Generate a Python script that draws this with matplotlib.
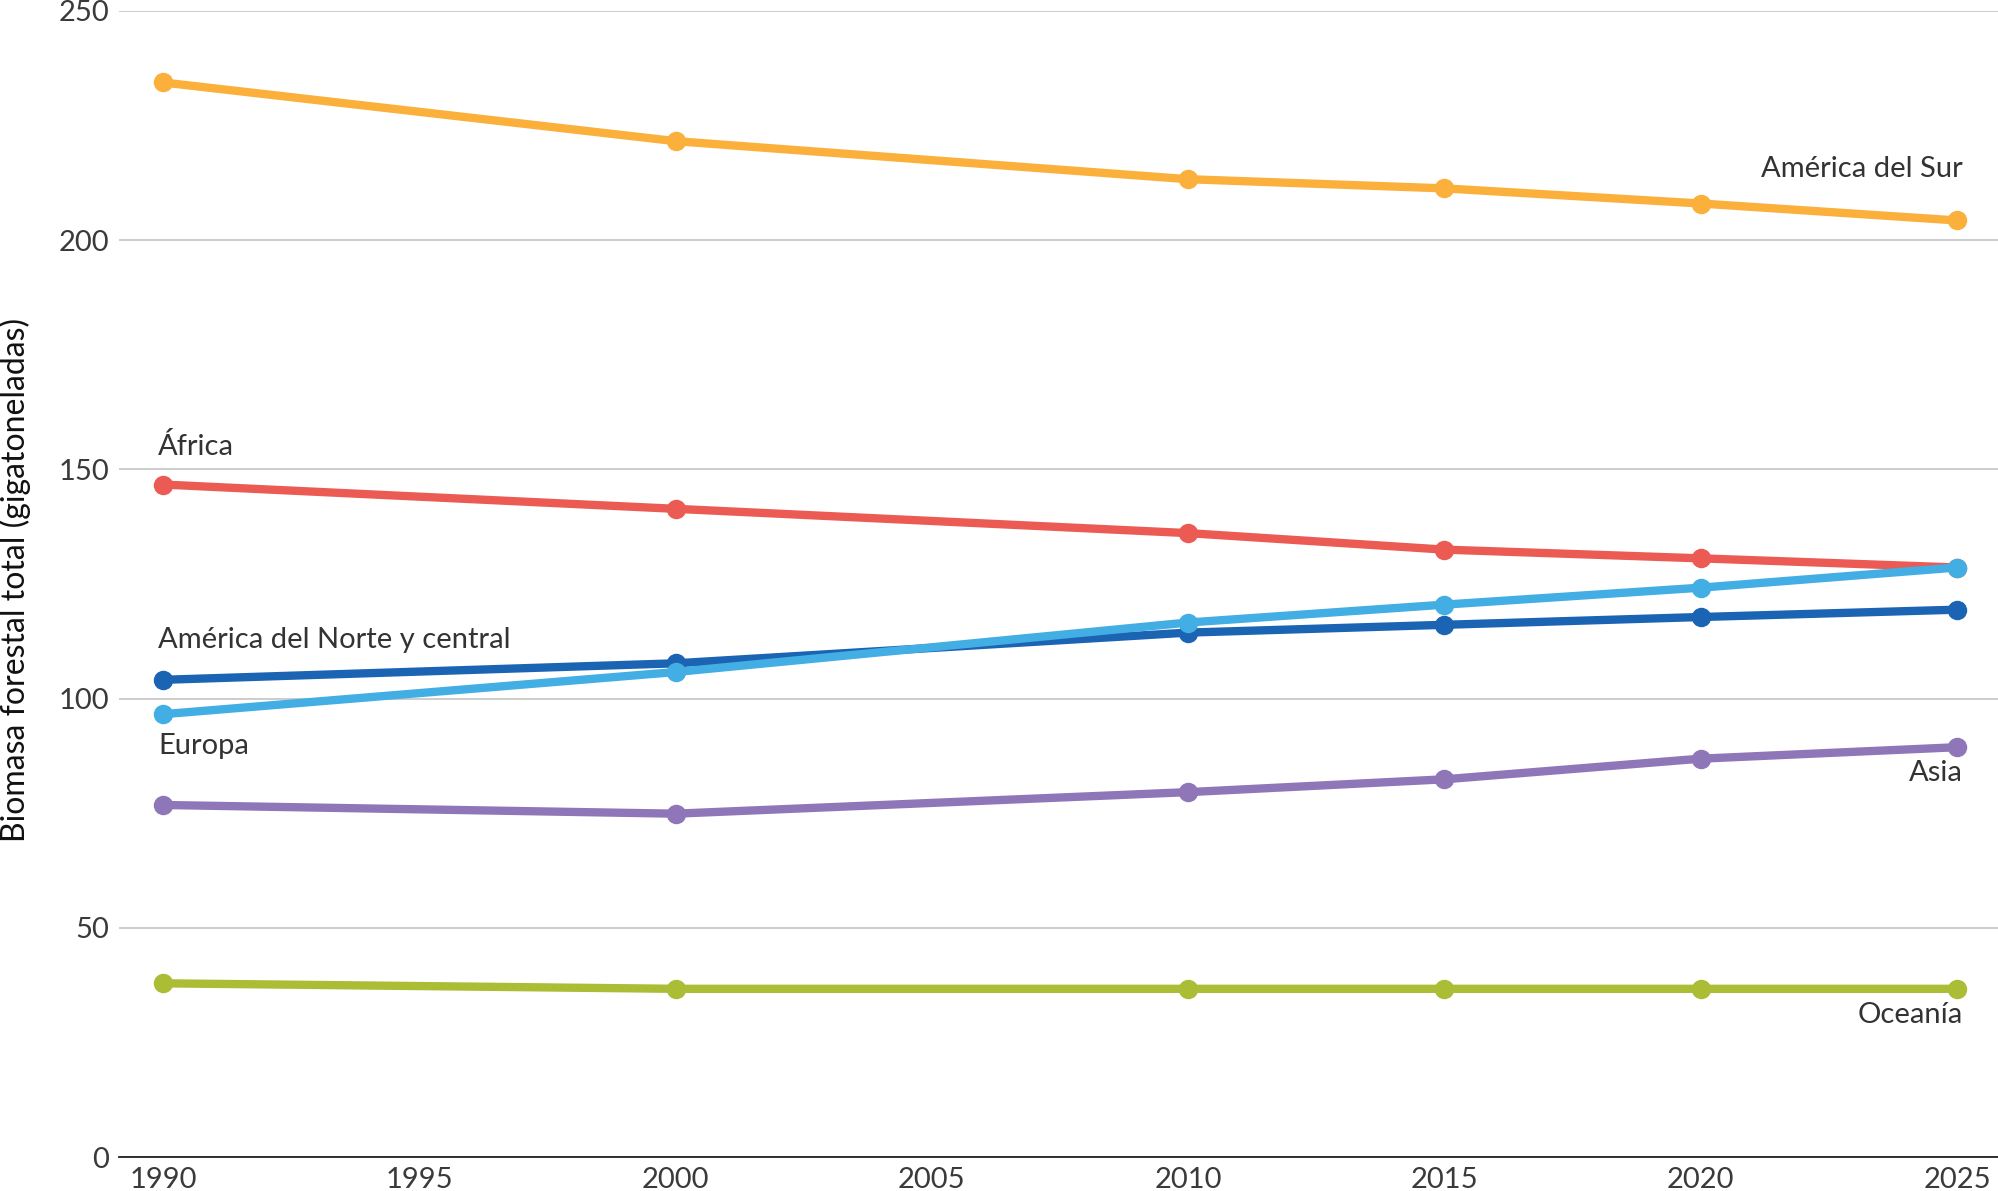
import numpy as np
import matplotlib.pyplot as plt

years = [1990, 2000, 2010, 2015, 2020, 2025]
sur = [234.4, 221.6, 213.3, 211.3, 208.0, 204.3]
africa = [146.7, 141.4, 136.1, 132.5, 130.6, 128.6]
norte = [104.1, 107.7, 114.4, 116.1, 117.8, 119.4]
europa = [96.6, 105.8, 116.6, 120.5, 124.2, 128.6]
asia = [76.8, 74.9, 79.6, 82.4, 86.9, 89.4]
oceania = [37.9, 36.7, 36.7, 36.7, 36.7, 36.7]

yticks = [0, 50, 100, 150, 200, 250]
xticks = [1990, 1995, 2000, 2005, 2010, 2015, 2020, 2025]

plt.rcParams['font.family'] = ['Lato', 'DejaVu Sans']

fig = plt.figure(figsize=(19.99, 11.91), dpi=100)
ax = fig.add_axes([0.0595, 0.0285, 0.9405, 0.9623])

series = [
    (sur, '#FBB03B'),
    (africa, '#EB5B53'),
    (norte, '#1B63B3'),
    (europa, '#42AEE3'),
    (asia, '#8F76B9'),
    (oceania, '#AABD34'),
]
for vals, col in series:
    ax.plot(years, vals, color=col, lw=6, marker='o', ms=13, zorder=3)

ax.set_xlim(1989.14, 2025.82)
ax.set_ylim(0, 250)
ax.set_yticks(yticks)
ax.set_xticks(xticks)
ax.grid(axis='y', color='#c8c8c8', lw=1.3)
ax.set_axisbelow(True)
for s in ['top', 'right', 'left']:
    ax.spines[s].set_visible(False)
ax.spines['bottom'].set_color('#222222')
ax.spines['bottom'].set_linewidth(1.3)
ax.tick_params(length=0, labelsize=21, colors='#3a3a3a')
ax.tick_params(axis='y', pad=7)
ax.tick_params(axis='x', pad=7)

fs = 21
tc = '#333333'
ax.text(2025.12, 215.5, 'América del Sur', ha='right', va='center', fontsize=fs, color=tc)
ax.text(1989.9, 155.0, 'África', ha='left', va='center', fontsize=fs, color=tc)
ax.text(1989.9, 112.8, 'América del Norte y central', ha='left', va='center', fontsize=fs, color=tc)
ax.text(1989.9, 89.6, 'Europa', ha='left', va='center', fontsize=fs, color=tc)
ax.text(2025.12, 83.8, 'Asia', ha='right', va='center', fontsize=fs, color=tc)
ax.text(2025.12, 30.9, 'Oceanía', ha='right', va='center', fontsize=fs, color=tc)

fig.text(0.0075, 0.513, 'Biomasa forestal total (gigatoneladas)', rotation=90,
         ha='center', va='center', fontsize=23, color='#111111')

fig.savefig('out.png', dpi=100)
